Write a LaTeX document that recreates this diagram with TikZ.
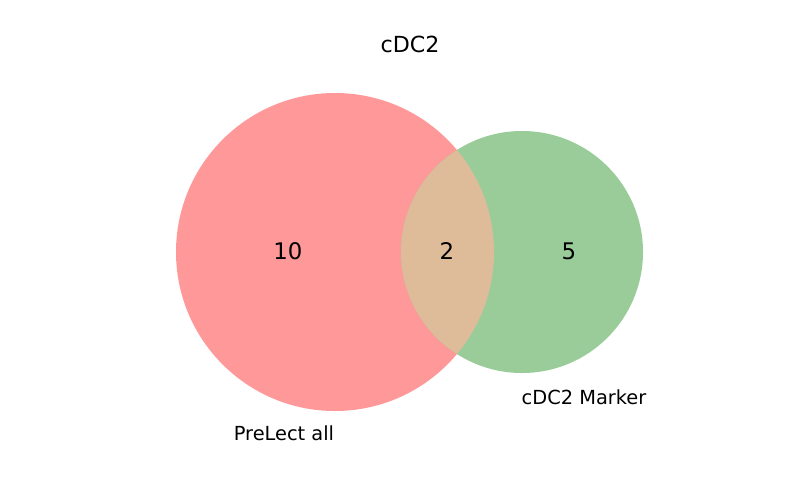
\documentclass[tikz,border=0pt]{standalone}
\usepackage{fontspec}
\setmainfont{DejaVu Sans}
\definecolor{vred}{RGB}{255,153,153}
\definecolor{vgreen}{RGB}{153,204,153}
\definecolor{vmix}{RGB}{222,187,153}
\begin{document}
\begin{tikzpicture}[x=0.01in,y=-0.01in,
  lbl/.style={anchor=base,inner sep=0pt,font=\fontsize{14}{16}\selectfont},
  num/.style={anchor=base,inner sep=0pt,font=\fontsize{16.5}{18}\selectfont}]
\useasboundingbox (0,0) rectangle (800,500);
\fill[vred] (335,252) circle[radius=159];
\fill[vgreen] (522,252) circle[radius=121];
\begin{scope}
\clip (335,252) circle[radius=159];
\fill[vmix] (522,252) circle[radius=121];
\end{scope}
\node[anchor=base,inner sep=0pt,font=\fontsize{16}{18}\selectfont] (title) at (410,52) {cDC2};
\node[num] (a) at (288,259.5) {10};
\node[num] (ab) at (447,259.5) {2};
\node[num] (b) at (569,259.5) {5};
\node[lbl] (la) at (284,440) {PreLect all};
\node[lbl] (lb) at (584,404) {cDC2 Marker};
\end{tikzpicture}
\end{document}
